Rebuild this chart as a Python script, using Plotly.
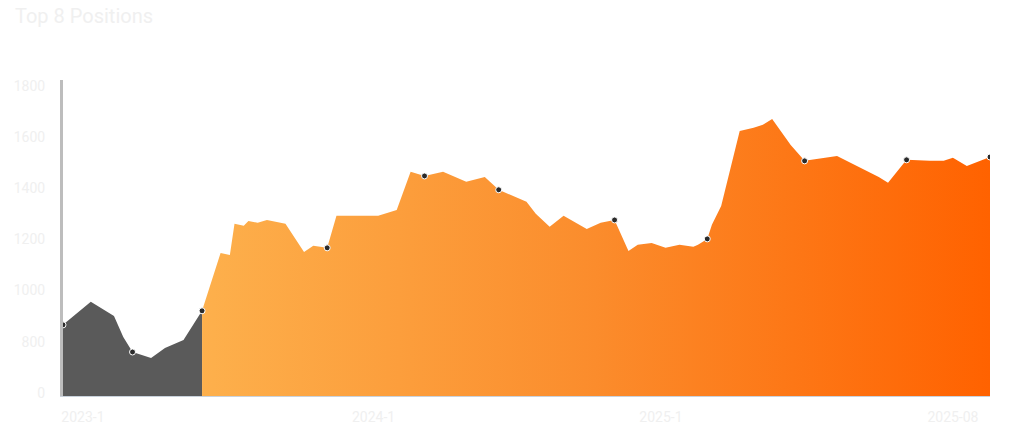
import plotly.graph_objects as go

title = "Top 8 Positions"

# period index and value
hist_x = [0, 6, 11, 13, 15, 19, 22, 26, 30]
hist_y = [866, 956, 901, 819, 760, 737, 776, 807, 921]

main_x = [30, 32, 34, 36, 37, 39, 40, 42, 44, 48, 52, 54, 57, 59, 68, 72, 75, 78,
          82, 87, 91, 94, 100, 102, 105, 108, 113, 116, 119, 122, 124, 127, 130,
          133, 136, 137, 139, 140, 142, 146, 149, 151, 153, 157, 160, 167, 172,
          176, 178, 182, 187, 190, 192, 195, 200]
main_y = [921, 1030, 1147, 1139, 1261, 1253, 1272, 1265, 1276, 1261, 1151, 1175,
          1167, 1292, 1292, 1315, 1464, 1448, 1464, 1425, 1444, 1394, 1347, 1300,
          1249, 1292, 1241, 1265, 1276, 1155, 1179, 1186, 1167, 1179, 1171, 1179,
          1202, 1257, 1331, 1624, 1636, 1648, 1671, 1569, 1507, 1526, 1480, 1444,
          1421, 1511, 1507, 1507, 1519, 1487, 1522]

marker_x = [0, 15, 30, 57, 78, 94, 119, 139, 160, 182, 200]
marker_y = [866, 760, 921, 1167, 1448, 1394, 1276, 1202, 1507, 1511, 1522]

y_tickvals = [600, 800, 1000, 1200, 1400, 1600, 1800]
y_ticktext = ["0", "800", "1000", "1200", "1400", "1600", "1800"]
x_tickvals = [4.3, 67, 129, 192]
x_ticktext = ["2023-1", "2024-1", "2025-1", "2025-08"]

fig = go.Figure()
fig.add_trace(go.Scatter(
    x=hist_x, y=hist_y, mode="lines", line=dict(color="#5a5a5a", width=0),
    fill="tozeroy", fillcolor="#5a5a5a", hoverinfo="skip", showlegend=False))
fig.add_trace(go.Scatter(
    x=main_x, y=main_y, mode="lines", line=dict(color="#ff8a30", width=0),
    fill="tozeroy",
    fillgradient=dict(type="horizontal",
                      colorscale=[[0, "#fdb04c"], [0.5, "#fb8c2c"], [1, "#ff6200"]]),
    hoverinfo="skip", showlegend=False))
fig.add_trace(go.Scatter(
    x=marker_x, y=marker_y, mode="markers",
    marker=dict(color="#2b2b2b", size=6, line=dict(color="#ffffff", width=1)),
    showlegend=False))

W, H = 1016, 421
fig.update_layout(
    width=W, height=H,
    margin=dict(l=55, r=34, t=72, b=33),
    paper_bgcolor="white", plot_bgcolor="white",
    title=dict(text=title, x=7 / W, xanchor="left", y=1 - 1 / H, yanchor="top",
               font=dict(family="Roboto, sans-serif", size=20, color="#f0f0f0")),
    font=dict(family="Roboto, sans-serif", size=14, color="#f0f0f0"),
)
fig.update_xaxes(range=[0, 200], showgrid=False, zeroline=False,
                 tickvals=x_tickvals, ticktext=x_ticktext,
                 showline=True, linecolor="#c9d2dc", linewidth=1,
                 ticks="", ticklabelstandoff=8, automargin=False,
                 tickfont=dict(color="#f0f0f0", size=14))
fig.update_yaxes(range=[588, 1823], showgrid=False, zeroline=False,
                 tickvals=y_tickvals, ticktext=y_ticktext,
                 showline=True, linecolor="#bdbdbd", linewidth=3,
                 ticks="", ticklabelstandoff=12, automargin=False,
                 tickfont=dict(color="#f0f0f0", size=14))

fig.write_html("out.html")
